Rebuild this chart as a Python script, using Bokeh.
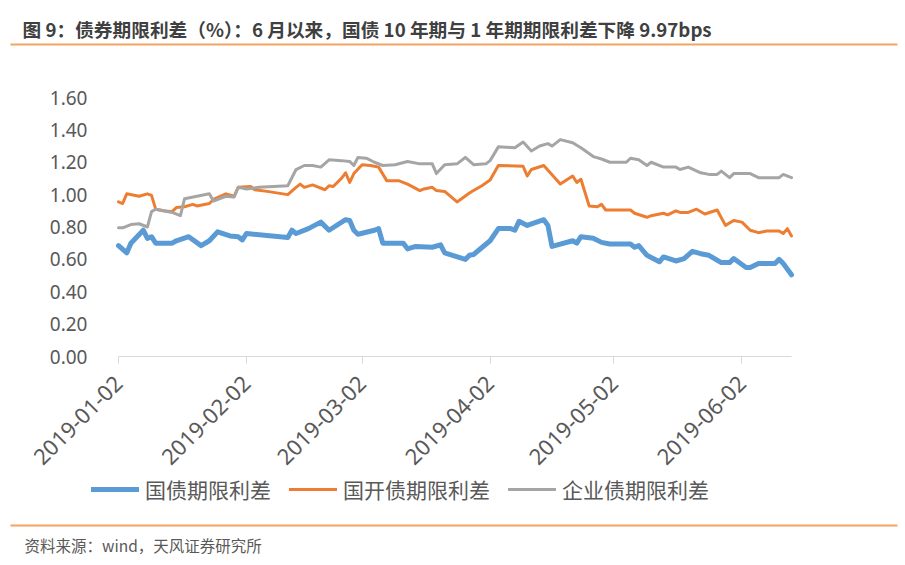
import numpy as np
import pandas as pd
from bokeh.plotting import figure
from bokeh.models import (Label, Legend, LegendItem, FixedTicker, DatetimeTickFormatter,
                          Range1d, NumeralTickFormatter, BoxAnnotation)
from bokeh.embed import file_html
from bokeh.resources import INLINE

title_text = "图 9：债券期限利差（%）：6 月以来，国债 10 年期与 1 年期期限利差下降 9.97bps"
source_text = "资料来源：wind，天风证券研究所"
series_names = ["国债期限利差", "国开债期限利差", "企业债期限利差"]
tick_dates = ["2019-01-02", "2019-02-02", "2019-03-02", "2019-04-02", "2019-05-02", "2019-06-02"]
y_ticks = [0.0, 0.2, 0.4, 0.6, 0.8, 1.0, 1.2, 1.4, 1.6]

gov_dates = ["2019-01-02", "2019-01-04", "2019-01-05", "2019-01-08", "2019-01-09", "2019-01-10",
             "2019-01-11", "2019-01-15", "2019-01-16", "2019-01-19", "2019-01-22", "2019-01-24",
             "2019-01-26", "2019-01-29", "2019-01-31", "2019-02-01", "2019-02-02", "2019-02-12",
             "2019-02-13", "2019-02-14", "2019-02-17", "2019-02-20", "2019-02-22", "2019-02-26",
             "2019-02-27", "2019-02-28", "2019-03-01", "2019-03-05", "2019-03-06", "2019-03-07",
             "2019-03-12", "2019-03-13", "2019-03-15", "2019-03-19", "2019-03-21", "2019-03-22",
             "2019-03-27", "2019-03-28", "2019-03-29", "2019-04-02", "2019-04-04", "2019-04-07",
             "2019-04-08", "2019-04-09", "2019-04-11", "2019-04-15", "2019-04-16", "2019-04-17",
             "2019-04-22", "2019-04-23", "2019-04-24", "2019-04-27", "2019-04-29", "2019-05-01",
             "2019-05-06", "2019-05-07", "2019-05-08", "2019-05-10", "2019-05-13", "2019-05-14",
             "2019-05-17", "2019-05-19", "2019-05-21", "2019-05-23", "2019-05-25", "2019-05-28",
             "2019-05-30", "2019-05-31", "2019-06-03", "2019-06-04", "2019-06-06", "2019-06-10",
             "2019-06-11", "2019-06-12", "2019-06-14"]
gov_values = [0.685, 0.64, 0.70, 0.78, 0.73, 0.74,
              0.70, 0.70, 0.715, 0.74, 0.685, 0.715,
              0.77, 0.745, 0.74, 0.72, 0.76, 0.735,
              0.78, 0.76, 0.79, 0.83, 0.78, 0.845,
              0.84, 0.78, 0.755, 0.78, 0.79, 0.70,
              0.70, 0.665, 0.68, 0.675, 0.69, 0.64,
              0.60, 0.625, 0.63, 0.715, 0.79, 0.79,
              0.78, 0.835, 0.81, 0.845, 0.81, 0.68,
              0.715, 0.70, 0.74, 0.73, 0.705, 0.695,
              0.695, 0.675, 0.685, 0.625, 0.585, 0.615,
              0.59, 0.605, 0.65, 0.635, 0.625, 0.58,
              0.58, 0.605, 0.55, 0.55, 0.575, 0.575,
              0.60, 0.575, 0.505]

cdb_dates = ["2019-01-02", "2019-01-03", "2019-01-04", "2019-01-07", "2019-01-09", "2019-01-10",
             "2019-01-11", "2019-01-13", "2019-01-15", "2019-01-16", "2019-01-18", "2019-01-20",
             "2019-01-21", "2019-01-24", "2019-01-25", "2019-01-28", "2019-01-30", "2019-01-31",
             "2019-02-03", "2019-02-04", "2019-02-07", "2019-02-12", "2019-02-14", "2019-02-15",
             "2019-02-16", "2019-02-18", "2019-02-21", "2019-02-22", "2019-02-23", "2019-02-25",
             "2019-02-26", "2019-02-27", "2019-02-28", "2019-03-02", "2019-03-04", "2019-03-05",
             "2019-03-06", "2019-03-08", "2019-03-11", "2019-03-13", "2019-03-16", "2019-03-17",
             "2019-03-19", "2019-03-20", "2019-03-22", "2019-03-25", "2019-03-28", "2019-03-29",
             "2019-03-31", "2019-04-02", "2019-04-04", "2019-04-10", "2019-04-11", "2019-04-12",
             "2019-04-15", "2019-04-19", "2019-04-22", "2019-04-23", "2019-04-24", "2019-04-26",
             "2019-04-28", "2019-04-29", "2019-04-30", "2019-05-06", "2019-05-07", "2019-05-10",
             "2019-05-11", "2019-05-14", "2019-05-15", "2019-05-17", "2019-05-18", "2019-05-20",
             "2019-05-22", "2019-05-24", "2019-05-27", "2019-05-29", "2019-05-31", "2019-06-02",
             "2019-06-04", "2019-06-06", "2019-06-08", "2019-06-11", "2019-06-12", "2019-06-13",
             "2019-06-14"]
cdb_values = [0.955, 0.945, 1.005, 0.99, 1.005, 0.995,
              0.91, 0.90, 0.895, 0.92, 0.925, 0.94,
              0.93, 0.945, 0.97, 1.005, 0.99, 1.045,
              1.05, 1.03, 1.02, 1.00, 1.045, 1.065,
              1.045, 1.06, 1.03, 1.055, 1.05, 1.10,
              1.135, 1.075, 1.13, 1.185, 1.18, 1.175,
              1.17, 1.085, 1.085, 1.065, 1.025, 1.035,
              1.045, 1.025, 1.02, 0.955, 1.01, 1.025,
              1.055, 1.09, 1.18, 1.175, 1.115, 1.155,
              1.18, 1.065, 1.115, 1.075, 1.095, 0.93,
              0.925, 0.94, 0.905, 0.905, 0.885, 0.86,
              0.87, 0.885, 0.875, 0.90, 0.89, 0.89,
              0.91, 0.88, 0.905, 0.81, 0.84, 0.83,
              0.78, 0.765, 0.775, 0.775, 0.76, 0.79,
              0.745]

corp_dates = ["2019-01-02", "2019-01-03", "2019-01-05", "2019-01-07", "2019-01-09", "2019-01-10",
              "2019-01-11", "2019-01-15", "2019-01-17", "2019-01-18", "2019-01-21", "2019-01-24",
              "2019-01-25", "2019-01-28", "2019-01-30", "2019-01-31", "2019-02-02", "2019-02-05",
              "2019-02-12", "2019-02-14", "2019-02-16", "2019-02-18", "2019-02-20", "2019-02-22",
              "2019-02-25", "2019-02-27", "2019-02-28", "2019-03-01", "2019-03-03", "2019-03-05",
              "2019-03-07", "2019-03-10", "2019-03-13", "2019-03-16", "2019-03-19", "2019-03-20",
              "2019-03-22", "2019-03-25", "2019-03-27", "2019-03-29", "2019-04-01", "2019-04-02",
              "2019-04-04", "2019-04-08", "2019-04-10", "2019-04-12", "2019-04-14", "2019-04-16",
              "2019-04-17", "2019-04-19", "2019-04-22", "2019-04-24", "2019-04-27", "2019-04-29",
              "2019-05-01", "2019-05-05", "2019-05-06", "2019-05-08", "2019-05-10", "2019-05-11",
              "2019-05-14", "2019-05-17", "2019-05-18", "2019-05-20", "2019-05-23", "2019-05-25",
              "2019-05-27", "2019-05-28", "2019-05-30", "2019-05-31", "2019-06-04", "2019-06-06",
              "2019-06-11", "2019-06-12", "2019-06-14"]
corp_values = [0.795, 0.795, 0.815, 0.82, 0.80, 0.895,
               0.91, 0.89, 0.87, 0.975, 0.99, 1.005,
               0.96, 0.99, 0.985, 1.045, 1.035, 1.045,
               1.055, 1.155, 1.18, 1.18, 1.17, 1.215,
               1.21, 1.205, 1.18, 1.23, 1.225, 1.20,
               1.18, 1.185, 1.205, 1.19, 1.19, 1.13,
               1.185, 1.19, 1.23, 1.185, 1.19, 1.21,
               1.295, 1.29, 1.325, 1.27, 1.30, 1.315,
               1.30, 1.34, 1.32, 1.29, 1.235, 1.22,
               1.20, 1.20, 1.225, 1.215, 1.18, 1.20,
               1.17, 1.17, 1.155, 1.17, 1.135, 1.125,
               1.125, 1.145, 1.105, 1.13, 1.13, 1.105,
               1.105, 1.125, 1.105]

colors = ["#5B9BD5", "#ED7D31", "#A5A5A5"]
widths = [5, 3, 3]
CJK = "Noto Sans CJK SC"
TEXT_GRAY = "#595959"
RULE = "#F4A460"

# canvas layout (pixels): the frame fills the whole canvas, the plot area is
# x 118..791 and y 97 (1.60) .. 356 (0.00); axes sit at fixed locations inside.
W, H = 900, 560
PX_LEFT, PX_RIGHT, PX_TOP, PX_ZERO = 118, 791, 97, 356
x_first = pd.Timestamp(gov_dates[0])
x_last = pd.Timestamp(gov_dates[-1])
day_px = (PX_RIGHT - PX_LEFT) / (x_last - x_first).days
x_start = x_first - pd.Timedelta(days=PX_LEFT / day_px)
x_end = x_last + pd.Timedelta(days=(W - PX_RIGHT) / day_px)
y_top_val = y_ticks[-1]
unit_px = (PX_ZERO - PX_TOP) / y_top_val
y_start = -(H - PX_ZERO) / unit_px
y_end = y_top_val + PX_TOP / unit_px


def ms(ts):
    return float(pd.Timestamp(ts).value // 10**6)


p = figure(width=W, height=H, x_axis_type="datetime", output_backend="svg",
           toolbar_location=None, x_range=Range1d(ms(x_start), ms(x_end)),
           y_range=Range1d(y_start, y_end),
           min_border=0, min_border_left=0, min_border_right=0, min_border_top=0, min_border_bottom=0)
p.outline_line_color = None
p.xgrid.visible = False
p.ygrid.visible = False

renderers = []
for d, v, c, w in [(gov_dates, gov_values, colors[0], widths[0]),
                   (cdb_dates, cdb_values, colors[1], widths[1]),
                   (corp_dates, corp_values, colors[2], widths[2])]:
    r = p.line(pd.to_datetime(d), v, line_color=c, line_width=w, line_join="round", line_cap="round")
    renderers.append(r)

xa = p.xaxis[0]
xa.fixed_location = 0.0
xa.bounds = (ms(x_first), ms(x_last))
xa.ticker = FixedTicker(ticks=[ms(t) for t in tick_dates])
fmt = "%Y-%m-%d"
xa.formatter = DatetimeTickFormatter(milliseconds=fmt, seconds=fmt, minsec=fmt, minutes=fmt,
                                     hourmin=fmt, hours=fmt, days=fmt, months=fmt, years=fmt)
xa.major_label_orientation = np.pi / 4
xa.major_label_text_font = "Noto Sans"
xa.major_label_text_font_size = "22px"
xa.major_label_text_color = TEXT_GRAY
xa.axis_line_color = "#D9D9D9"
xa.major_tick_line_color = "#D9D9D9"
xa.major_tick_out = 7
xa.major_tick_in = 0
xa.minor_tick_line_color = None
xa.major_label_standoff = 16

ya = p.yaxis[0]
ya.fixed_location = ms(x_first)
ya.bounds = (0.0, y_top_val)
ya.ticker = FixedTicker(ticks=y_ticks)
ya.formatter = NumeralTickFormatter(format="0.00")
ya.axis_line_color = None
ya.major_tick_line_color = None
ya.minor_tick_line_color = None
ya.major_label_standoff = 25
ya.major_label_text_font = "Noto Sans"
ya.major_label_text_font_size = "19px"
ya.major_label_text_color = TEXT_GRAY

# title, rules and source note (screen units: from the frame's bottom-left)
p.add_layout(Label(x=22, y=H - 28, x_units="screen", y_units="screen", text=title_text,
                   text_font=CJK, text_font_size="18.7px", text_font_style="bold",
                   text_color="#404040", text_baseline="middle", text_align="left"))
for ypix in (44, 525):
    p.add_layout(BoxAnnotation(left=10, right=897, bottom=H - ypix - 1, top=H - ypix + 1,
                               left_units="screen", right_units="screen",
                               bottom_units="screen", top_units="screen",
                               fill_color=RULE, fill_alpha=1, line_color=None))
p.add_layout(Label(x=24, y=H - 544, x_units="screen", y_units="screen", text=source_text,
                   text_font=CJK, text_font_size="15.5px", text_color=TEXT_GRAY,
                   text_baseline="middle", text_align="left"))

legend = Legend(items=[LegendItem(label=n, renderers=[r]) for n, r in zip(series_names, renderers)],
                orientation="horizontal", location=(91, H - 504),
                label_text_font=CJK, label_text_font_size="21px", label_text_color=TEXT_GRAY,
                glyph_width=48, glyph_height=26, label_standoff=6, spacing=18,
                padding=0, margin=0, border_line_color=None, background_fill_alpha=0)
p.add_layout(legend, "center")

open("out.html", "w").write(file_html(p, INLINE))
